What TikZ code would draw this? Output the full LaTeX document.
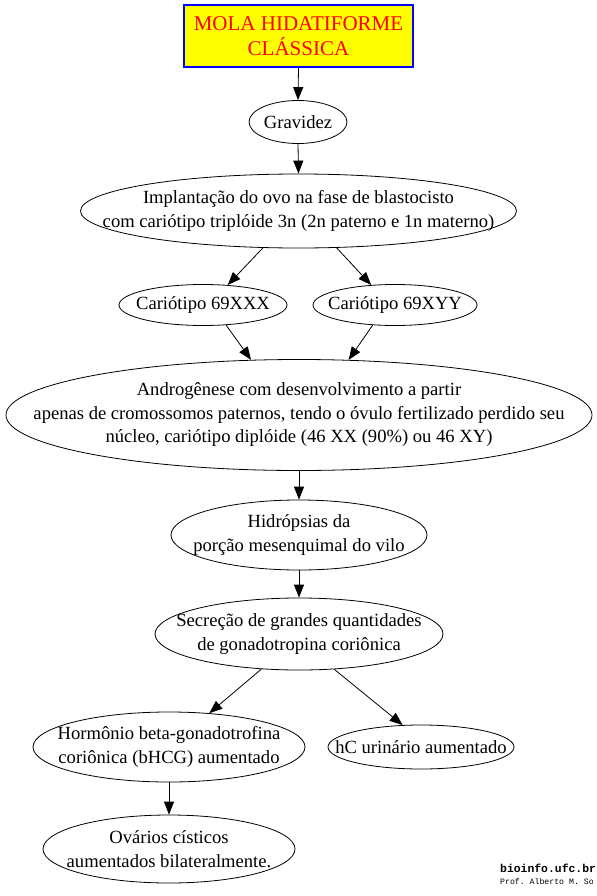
\documentclass[tikz,border=0pt]{standalone}
\usepackage{fontspec}
\setmainfont{Liberation Serif}
\setmonofont{Liberation Mono}
\usetikzlibrary{shapes.geometric,arrows.meta}
\definecolor{gvyellow}{RGB}{255,255,0}
\definecolor{gvred}{RGB}{255,0,0}
\definecolor{gvblue}{RGB}{0,0,255}
\tikzset{
  ell/.style={ellipse,draw=black,line width=0.8bp,inner sep=0pt},
  lbl/.style={inner sep=0pt,align=center,font=\fontsize{18.6bp}{23.5bp}\selectfont},
  titlebox/.style={rectangle,draw=gvblue,fill=gvyellow,line width=1.3bp,inner sep=0pt,
    align=center,text=gvred,minimum width=229bp,minimum height=62bp,
    font=\fontsize{21bp}{25bp}\selectfont},
  edge/.style={line width=0.8bp,-{Triangle[length=13bp,width=10bp]}}
}
\begin{document}
\begin{tikzpicture}[x=1bp,y=-1bp]
\useasboundingbox (0,0) rectangle (597,896);
\fill[white] (0,0) rectangle (597,896);
\node[titlebox] (mola) at (298.5,36) {MOLA HIDATIFORME\\CLÁSSICA};
\node[ell,minimum width=98bp,minimum height=43bp] (grav) at (298,122) {};
\node[lbl] (gravt) at (grav.center) {Gravidez};
\node[ell,minimum width=436bp,minimum height=74bp] (impl) at (298.5,211) {};
\node[lbl] (implt) at (impl.center) {Implantação do ovo na fase de blastocisto\\com cariótipo triplóide 3n (2n paterno e 1n materno)};
\node[ell,minimum width=168bp,minimum height=41bp] (xxx) at (203,305) {};
\node[lbl] (xxxt) at (xxx.center) {Cariótipo 69XXX};
\node[ell,minimum width=164bp,minimum height=41bp] (xyy) at (395,305) {};
\node[lbl] (xyyt) at (xyy.center) {Cariótipo 69XYY};
\node[ell,minimum width=586bp,minimum height=111bp] (andro) at (299,415) {};
\node[lbl] (androt) at (andro.center) {Androgênese com desenvolvimento a partir\\apenas de cromossomos paternos, tendo o óvulo fertilizado perdido seu\\núcleo, cariótipo diplóide (46 XX (90\%) ou 46 XY)};
\node[ell,minimum width=256bp,minimum height=70bp] (hidro) at (299,535) {};
\node[lbl] (hidrot) at (hidro.center) {Hidrópsias da\\porção mesenquimal do vilo};
\node[ell,minimum width=288bp,minimum height=72bp] (secr) at (299,634) {};
\node[lbl] (secrt) at (secr.center) {Secreção de grandes quantidades\\de gonadotropina coriônica};
\node[ell,minimum width=272bp,minimum height=70bp] (horm) at (169,747) {};
\node[lbl] (hormt) at (horm.center) {Hormônio beta-gonadotrofina\\coriônica (bHCG) aumentado};
\node[ell,minimum width=186bp,minimum height=44bp] (hc) at (421,747) {};
\node[lbl] (hct) at (hc.center) {hC urinário aumentado};
\node[ell,minimum width=252bp,minimum height=68bp] (ovar) at (169,849) {};
\node[lbl] (ovart) at (ovar.center) {Ovários císticos\\aumentados bilateralmente.};
\node[anchor=base west,inner sep=0pt,font=\fontsize{11.4bp}{12bp}\ttfamily\bfseries] (site) at (500,872) {bioinfo.ufc.br};
\node[anchor=base west,inner sep=0pt,font=\fontsize{8.2bp}{10bp}\ttfamily] (prof) at (500,884) {Prof. Alberto M. So};
\draw[edge] (mola.south) -- (grav.north);
\draw[edge] (grav.south) -- (impl.north);
\draw[edge] (impl.226) -- (xxx.39);
\draw[edge] (impl.316) -- (xyy.140);
\draw[edge] (xxx.319) -- (andro.131.7);
\draw[edge] (xyy.222.5) -- (andro.48.3);
\draw[edge] (andro.south) -- (hidro.north);
\draw[edge] (hidro.south) -- (secr.north);
\draw[edge] (secr.223) -- (horm.40);
\draw[edge] (secr.315) -- (hc.130);
\draw[edge] (horm.south) -- (ovar.north);
\end{tikzpicture}
\end{document}
